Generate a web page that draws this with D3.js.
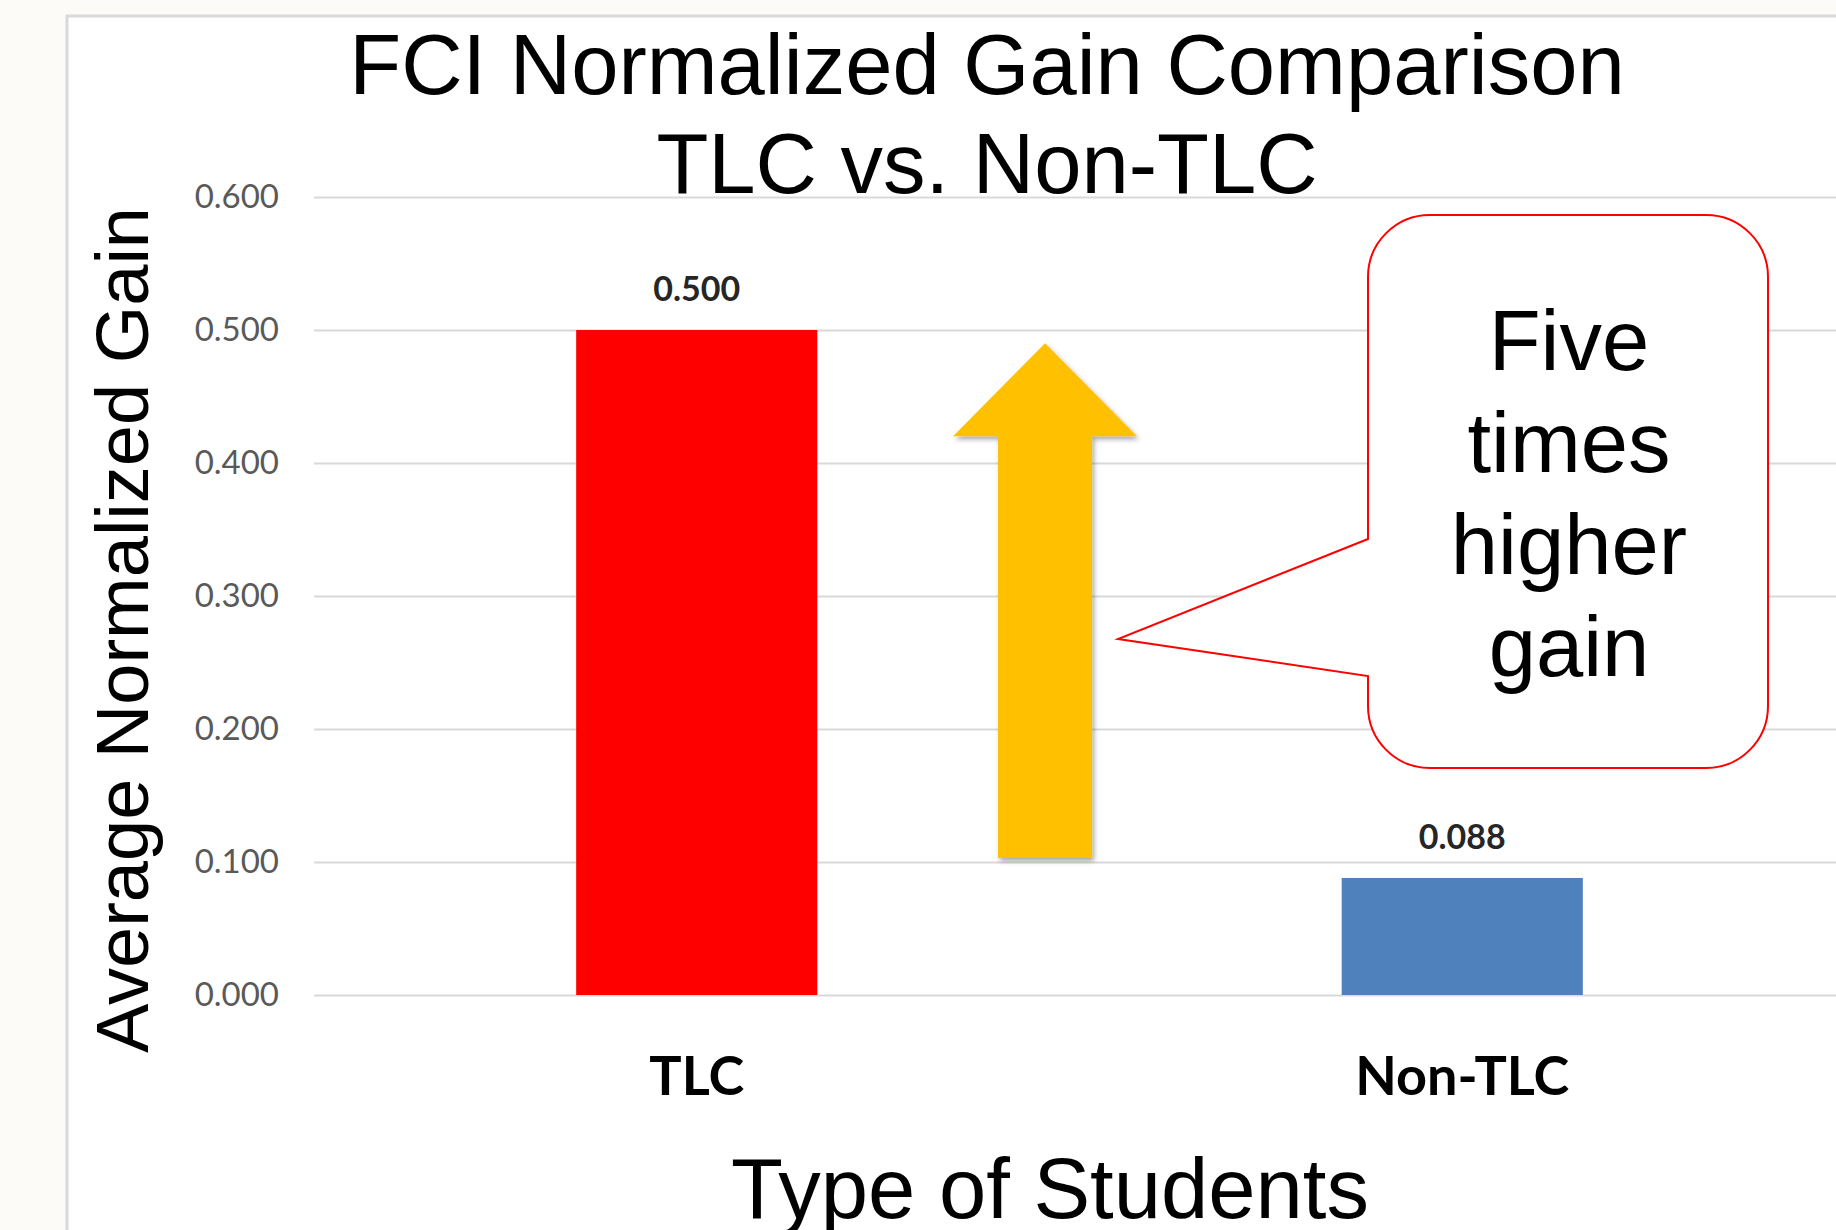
<!DOCTYPE html>
<html>
<head>
<meta charset="utf-8">
<script src="https://cdn.jsdelivr.net/npm/d3@7"></script>
<style>
  html, body { margin: 0; padding: 0; background: #fcfbf7; }
  svg { display: block; }
</style>
</head>
<body>
<svg id="chart" width="1836" height="1230"></svg>
<script>
// ---- data ----
const categories = ["TLC", "Non-TLC"];
const values = [0.500, 0.088];
const barColors = ["#ff0000", "#4f81bd"];
const valueLabels = ["0.500", "0.088"];
const yTicks = [0, 0.1, 0.2, 0.3, 0.4, 0.5, 0.6];
const yTickLabels = ["0.000", "0.100", "0.200", "0.300", "0.400", "0.500", "0.600"];
const titleLines = ["FCI Normalized Gain Comparison", "TLC vs. Non-TLC"];
const yTitle = "Average Normalized Gain";
const xTitle = "Type of Students";
const calloutLines = ["Five", "times", "higher", "gain"];
const arrowRange = [0.103, 0.49];   // annotation arrow extent in data units

// ---- layout ----
const W = 1836, H = 1230;
const plot = { left: 314, right: 1845, top: 197, bottom: 995 };

const svg = d3.select("#chart");

// frame
svg.append("rect")
  .attr("x", 67).attr("y", 16)
  .attr("width", W).attr("height", H)
  .attr("fill", "#ffffff")
  .attr("stroke", "#d9d9d9").attr("stroke-width", 3);

const x = d3.scaleBand()
  .domain(categories)
  .range([plot.left, plot.right])
  .paddingInner(0.685)
  .paddingOuter(0.3425);

const y = d3.scaleLinear()
  .domain([0, 0.6])
  .range([plot.bottom, plot.top]);

// gridlines + tick labels
const yAxis = d3.axisLeft(y)
  .tickValues(yTicks)
  .tickFormat((d, i) => yTickLabels[i])
  .tickSize(-(plot.right - plot.left))
  .tickPadding(35);

const gy = svg.append("g")
  .attr("transform", `translate(${plot.left},0)`)
  .call(yAxis);
gy.select(".domain").remove();
gy.selectAll(".tick line").attr("stroke", "#d9d9d9").attr("stroke-width", 2);
gy.selectAll(".tick text")
  .attr("fill", "#595959")
  .style("font-family", "Lato, 'Open Sans', sans-serif")
  .style("font-size", "33px");

// bars
svg.append("g").selectAll("rect")
  .data(categories)
  .join("rect")
  .attr("x", d => x(d))
  .attr("width", x.bandwidth())
  .attr("y", (d, i) => y(values[i]))
  .attr("height", (d, i) => y(0) - y(values[i]))
  .attr("fill", (d, i) => barColors[i]);

// value labels
svg.append("g").selectAll("text")
  .data(categories)
  .join("text")
  .attr("x", d => x(d) + x.bandwidth() / 2)
  .attr("y", (d, i) => y(values[i]) - 29)
  .attr("text-anchor", "middle")
  .attr("fill", "#262626")
  .style("font-family", "Lato, sans-serif")
  .style("font-weight", "bold")
  .style("font-size", "34px")
  .text((d, i) => valueLabels[i]);

// category labels
svg.append("g").selectAll("text")
  .data(categories)
  .join("text")
  .attr("x", d => x(d) + x.bandwidth() / 2)
  .attr("y", plot.bottom + 100)
  .attr("text-anchor", "middle")
  .attr("fill", "#000000")
  .style("font-family", "Lato, sans-serif")
  .style("font-weight", "bold")
  .style("font-size", "54px")
  .text(d => d);

// titles
const titleFont = "'Liberation Sans', Arial, Helvetica, sans-serif";
svg.append("g").selectAll("text")
  .data(titleLines)
  .join("text")
  .attr("x", 987)
  .attr("y", (d, i) => 94 + i * 99)
  .attr("text-anchor", "middle")
  .attr("fill", "#000")
  .style("font-family", titleFont)
  .style("font-size", "85px")
  .text(d => d);

svg.append("text")
  .attr("transform", `translate(148, ${(plot.top + plot.bottom) / 2 + 34}) rotate(-90)`)
  .attr("text-anchor", "middle")
  .attr("fill", "#000")
  .style("font-family", titleFont)
  .style("font-size", "74px")
  .text(yTitle);

svg.append("text")
  .attr("x", 1050)
  .attr("y", 1218)
  .attr("text-anchor", "middle")
  .attr("fill", "#000")
  .style("font-family", titleFont)
  .style("font-size", "85px")
  .text(xTitle);

// ---- arrow annotation ----
const defs = svg.append("defs");
const f = defs.append("filter").attr("id", "shadow")
  .attr("x", "-20%").attr("y", "-20%").attr("width", "140%").attr("height", "140%");
f.append("feDropShadow")
  .attr("dx", 2).attr("dy", 3).attr("stdDeviation", 2.5)
  .attr("flood-color", "#000").attr("flood-opacity", 0.35);

const step = x.step();
const ax = x(categories[0]) + x.bandwidth() / 2 + 0.455 * step;
const shaftHalf = 47, headHalf = 92;
const yBottom = y(arrowRange[0]), yTip = y(arrowRange[1]);
const yHeadBase = yTip + 93;
const arrowPts = [
  [ax - shaftHalf, yBottom], [ax - shaftHalf, yHeadBase], [ax - headHalf, yHeadBase],
  [ax, yTip], [ax + headHalf, yHeadBase], [ax + shaftHalf, yHeadBase], [ax + shaftHalf, yBottom]
];
svg.append("path")
  .attr("d", d3.line()(arrowPts) + "Z")
  .attr("fill", "#ffc000")
  .attr("filter", "url(#shadow)");

// ---- callout ----
const cb = { x0: 1368, x1: 1768, y0: 215, y1: 768, r: 62 };
const tip = [1118, 639], j1 = 539, j2 = 676;
const p = d3.path();
p.moveTo(cb.x0 + cb.r, cb.y0);
p.lineTo(cb.x1 - cb.r, cb.y0);
p.arcTo(cb.x1, cb.y0, cb.x1, cb.y0 + cb.r, cb.r);
p.lineTo(cb.x1, cb.y1 - cb.r);
p.arcTo(cb.x1, cb.y1, cb.x1 - cb.r, cb.y1, cb.r);
p.lineTo(cb.x0 + cb.r, cb.y1);
p.arcTo(cb.x0, cb.y1, cb.x0, cb.y1 - cb.r, cb.r);
p.lineTo(cb.x0, j2);
p.lineTo(tip[0], tip[1]);
p.lineTo(cb.x0, j1);
p.lineTo(cb.x0, cb.y0 + cb.r);
p.arcTo(cb.x0, cb.y0, cb.x0 + cb.r, cb.y0, cb.r);
p.closePath();
svg.append("path")
  .attr("d", p.toString())
  .attr("fill", "#ffffff")
  .attr("stroke", "#ff0000")
  .attr("stroke-width", 2);

svg.append("g").selectAll("text")
  .data(calloutLines)
  .join("text")
  .attr("x", 1569)
  .attr("y", (d, i) => 370 + i * 102)
  .attr("text-anchor", "middle")
  .attr("fill", "#000")
  .style("font-family", titleFont)
  .style("font-size", "85px")
  .text(d => d);
</script>
</body>
</html>
